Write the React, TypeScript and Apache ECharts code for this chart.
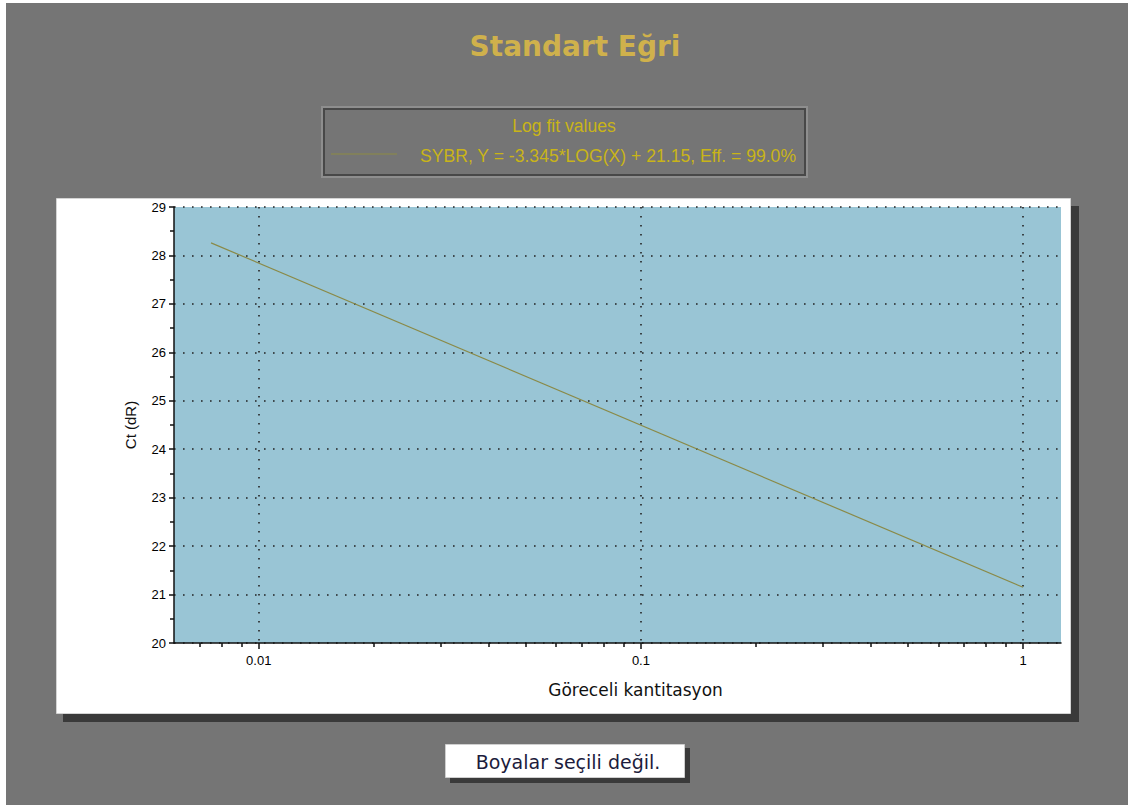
import React, { useEffect, useRef } from "react";
import * as echarts from "echarts";

// Fitted line endpoints (relative quantity, Ct)
const fitX = [0.0075, 1];
const fitY = [28.26, 21.15];

// Axis extents and ticks
const xMin = 0.006;
const xMax = 1.257;
const xMajorTicks = [0.01, 0.1, 1];
const xMajorLabels = ["0.01", "0.1", "1"];
const xMinorTicks = [
  0.007, 0.008, 0.009,
  0.02, 0.03, 0.04, 0.05, 0.06, 0.07, 0.08, 0.09,
  0.2, 0.3, 0.4, 0.5, 0.6, 0.7, 0.8, 0.9,
];
const yMin = 20;
const yMax = 29;
const yInterval = 1;

const titleText = "Standart Eğri";
const legendTitle = "Log fit values";
const legendEntry = "SYBR, Y = -3.345*LOG(X) + 21.15, Eff. = 99.0%";
const xName = "Göreceli kantitasyon";
const yName = "Ct (dR)";
const buttonText = "Boyalar seçili değil.";

const lg = (v: number) => Math.log10(v);

export default function App() {
  const ref = useRef<HTMLDivElement>(null);
  useEffect(() => {
    if (!ref.current) return;
    const chart = echarts.init(ref.current, null, { renderer: "svg" });
    const dotted = { color: "#222222", width: 1.6, type: [1.6, 7.4] as number[] };
    const option: any = {
      animation: false,
      backgroundColor: "#ffffff",
      graphic: [
        { type: "rect", z: -20, shape: { x: 6, y: 3, width: 1122, height: 802 }, style: { fill: "#757575" } },
        // title
        {
          type: "text", z: 10, x: 575, y: 46,
          style: { text: titleText, fill: "#cfb14c", font: "bold 28px 'DejaVu Sans'", align: "center", verticalAlign: "middle" },
        },
        // legend box
        { type: "rect", z: -15, shape: { x: 322, y: 107, width: 485, height: 70 }, style: { fill: "none", stroke: "#8e8e8e", lineWidth: 2 } },
        { type: "rect", z: -14, shape: { x: 324, y: 109, width: 481, height: 66 }, style: { fill: "none", stroke: "#484848", lineWidth: 2 } },
        {
          type: "text", z: 10, x: 564, y: 126,
          style: { text: legendTitle, fill: "#c9b418", font: "17.6px 'Liberation Sans'", align: "center", verticalAlign: "middle" },
        },
        { type: "line", z: 10, shape: { x1: 331, y1: 154, x2: 397, y2: 154 }, style: { stroke: "#8d8b45", lineWidth: 1.2 } },
        {
          type: "text", z: 10, x: 420, y: 156,
          style: { text: legendEntry, fill: "#c9b418", font: "17.6px 'Liberation Sans'", align: "left", verticalAlign: "middle" },
        },
        // chart panel with shadow
        { type: "rect", z: -13, shape: { x: 63, y: 206, width: 1016, height: 516 }, style: { fill: "#3a3a3a" } },
        { type: "rect", z: -12, shape: { x: 56.5, y: 198.5, width: 1014, height: 515 }, style: { fill: "#ffffff", stroke: "#d4d4d4", lineWidth: 1 } },
        // button
        { type: "rect", z: -13, shape: { x: 450, y: 748, width: 240, height: 35 }, style: { fill: "#3a3a3a" } },
        { type: "rect", z: -12, shape: { x: 445.5, y: 744.5, width: 239, height: 33 }, style: { fill: "#ffffff", stroke: "#cfcfcf", lineWidth: 1 } },
        {
          type: "text", z: 10, x: 568, y: 762,
          style: { text: buttonText, fill: "#1c1c3c", font: "19px 'DejaVu Sans'", align: "center", verticalAlign: "middle" },
        },
      ],
      grid: {
        left: 174, right: 67, top: 207, bottom: 162,
        show: true, backgroundColor: "#99c5d5", borderWidth: 0,
      },
      xAxis: [
        {
          type: "value", z: 3,
          min: lg(xMin), max: lg(xMax),
          name: xName, nameLocation: "middle", nameGap: 38,
          nameTextStyle: { color: "#111", fontFamily: "DejaVu Sans", fontSize: 17, padding: [0, 0, 0, 36] },
          axisLine: { show: true, onZero: false, lineStyle: { color: "#111", width: 1.5 } },
          axisTick: { show: true, length: 6, customValues: xMajorTicks.map(lg), lineStyle: { color: "#111", width: 1.5 } },
          axisLabel: {
            customValues: xMajorTicks.map(lg), margin: 11,
            color: "#000", fontFamily: "Liberation Sans", fontSize: 13,
            formatter: (v: number) => {
              const i = xMajorTicks.findIndex((t) => Math.abs(lg(t) - v) < 1e-6);
              return i >= 0 ? xMajorLabels[i] : "";
            },
          },
          splitLine: { show: true, lineStyle: dotted },
        },
        {
          type: "value", position: "bottom", z: 3,
          min: lg(xMin), max: lg(xMax),
          axisLine: { show: false },
          axisTick: { show: true, length: 4, customValues: xMinorTicks.map(lg), lineStyle: { color: "#111", width: 1.5 } },
          axisLabel: { show: false },
          splitLine: { show: false },
        },
      ],
      yAxis: {
        type: "value", z: 3,
        min: yMin, max: yMax, interval: yInterval,
        name: yName, nameLocation: "middle", nameGap: 36,
        nameTextStyle: { color: "#111", fontFamily: "Liberation Sans", fontSize: 15 },
        axisLine: { show: true, onZero: false, lineStyle: { color: "#111", width: 1.5 } },
        axisTick: { show: true, length: 5, lineStyle: { color: "#111", width: 1.5 } },
        minorTick: { show: true, splitNumber: 2, length: 4, lineStyle: { color: "#111", width: 1.5 } },
        axisLabel: { color: "#000", fontFamily: "Liberation Sans", fontSize: 13, margin: 8 },
        splitLine: { show: true, lineStyle: dotted },
      },
      series: [
        {
          type: "line",
          xAxisIndex: 0,
          data: fitX.map((x, i) => [lg(x), fitY[i]]),
          symbol: "none",
          lineStyle: { color: "#8a8a48", width: 1.2 },
          z: 5,
        },
      ],
    };
    chart.setOption(option);
    return () => chart.dispose();
  }, []);
  return (
    <div style={{ position: "absolute", left: 0, top: 0, width: 1128, height: 805 }}>
      <div ref={ref} style={{ width: 1128, height: 805 }} />
    </div>
  );
}
